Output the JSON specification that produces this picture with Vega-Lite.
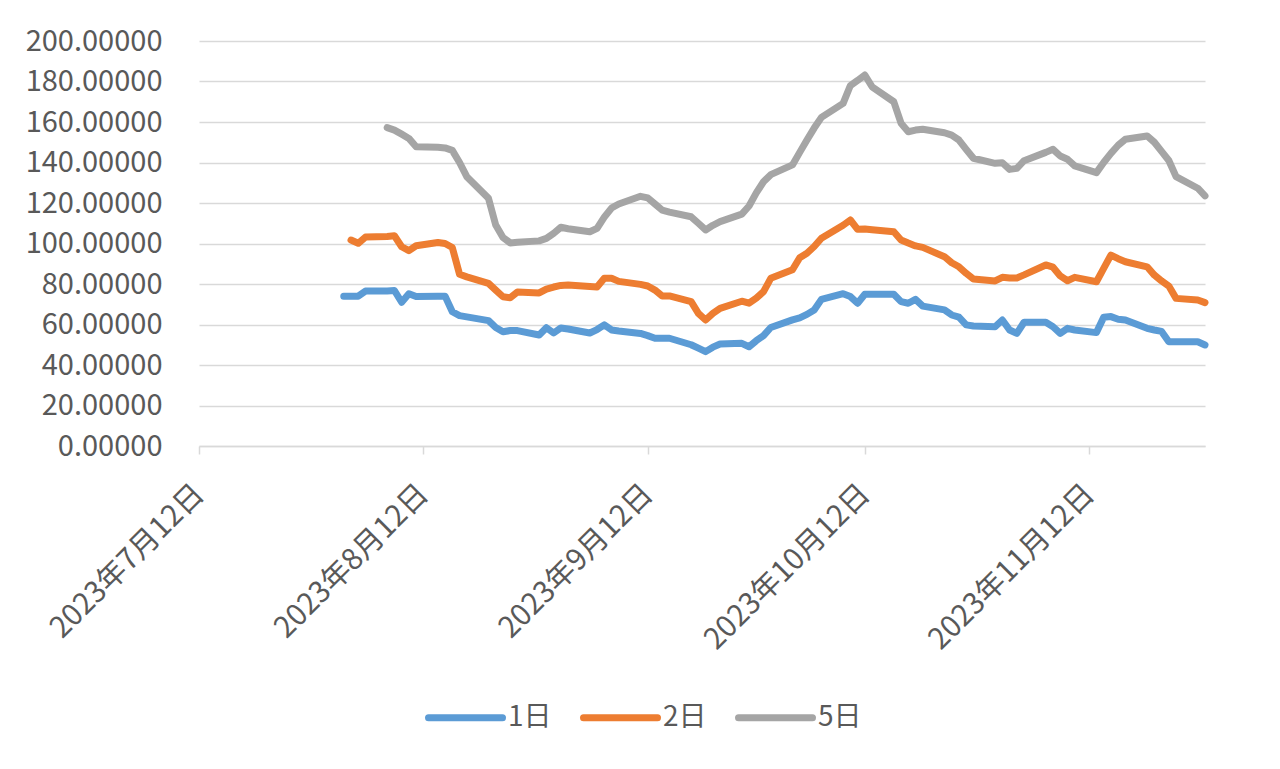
{
  "$schema": "https://vega.github.io/schema/vega-lite/v6.json",
  "width": 1006,
  "height": 405,
  "autosize": "none",
  "padding": {"left": 199, "top": 41, "right": 75, "bottom": 323},
  "background": "white",
  "config": {"view": {"stroke": null}, "font": "Noto Sans CJK SC"},
  "datasets": {
    "s1": [
      {"date": "2023-08-01", "v": 74.0}, {"date": "2023-08-03", "v": 74.0}, {"date": "2023-08-04", "v": 76.5},
      {"date": "2023-08-07", "v": 76.6}, {"date": "2023-08-08", "v": 76.8}, {"date": "2023-08-09", "v": 71.0},
      {"date": "2023-08-10", "v": 75.2}, {"date": "2023-08-11", "v": 73.8}, {"date": "2023-08-14", "v": 74.0},
      {"date": "2023-08-15", "v": 74.0}, {"date": "2023-08-16", "v": 66.3}, {"date": "2023-08-17", "v": 64.4},
      {"date": "2023-08-21", "v": 61.9}, {"date": "2023-08-22", "v": 58.5}, {"date": "2023-08-23", "v": 56.4},
      {"date": "2023-08-24", "v": 57.0}, {"date": "2023-08-25", "v": 57.0}, {"date": "2023-08-28", "v": 54.8},
      {"date": "2023-08-29", "v": 58.4}, {"date": "2023-08-30", "v": 55.8}, {"date": "2023-08-31", "v": 58.3},
      {"date": "2023-09-01", "v": 57.8}, {"date": "2023-09-04", "v": 55.8}, {"date": "2023-09-05", "v": 57.5},
      {"date": "2023-09-06", "v": 59.8}, {"date": "2023-09-07", "v": 57.3}, {"date": "2023-09-08", "v": 56.8},
      {"date": "2023-09-11", "v": 55.6}, {"date": "2023-09-12", "v": 54.5}, {"date": "2023-09-13", "v": 53.2},
      {"date": "2023-09-14", "v": 53.2}, {"date": "2023-09-15", "v": 53.2}, {"date": "2023-09-18", "v": 50.0},
      {"date": "2023-09-19", "v": 48.3}, {"date": "2023-09-20", "v": 46.6}, {"date": "2023-09-21", "v": 48.8},
      {"date": "2023-09-22", "v": 50.4}, {"date": "2023-09-25", "v": 50.7}, {"date": "2023-09-26", "v": 49.0},
      {"date": "2023-09-27", "v": 52.0}, {"date": "2023-09-28", "v": 54.5}, {"date": "2023-09-29", "v": 58.5},
      {"date": "2023-10-02", "v": 62.3}, {"date": "2023-10-03", "v": 63.3}, {"date": "2023-10-04", "v": 65.0},
      {"date": "2023-10-05", "v": 67.2}, {"date": "2023-10-06", "v": 72.4}, {"date": "2023-10-09", "v": 75.2},
      {"date": "2023-10-10", "v": 73.8}, {"date": "2023-10-11", "v": 70.5}, {"date": "2023-10-12", "v": 74.9},
      {"date": "2023-10-13", "v": 75.0}, {"date": "2023-10-16", "v": 74.9}, {"date": "2023-10-17", "v": 71.3},
      {"date": "2023-10-18", "v": 70.5}, {"date": "2023-10-19", "v": 72.4}, {"date": "2023-10-20", "v": 69.1},
      {"date": "2023-10-23", "v": 67.2}, {"date": "2023-10-24", "v": 64.7}, {"date": "2023-10-25", "v": 63.6},
      {"date": "2023-10-26", "v": 59.8}, {"date": "2023-10-27", "v": 59.3}, {"date": "2023-10-30", "v": 58.9},
      {"date": "2023-10-31", "v": 62.2}, {"date": "2023-11-01", "v": 57.3}, {"date": "2023-11-02", "v": 55.6},
      {"date": "2023-11-03", "v": 61.1}, {"date": "2023-11-06", "v": 61.1}, {"date": "2023-11-07", "v": 58.9},
      {"date": "2023-11-08", "v": 55.6}, {"date": "2023-11-09", "v": 58.1}, {"date": "2023-11-10", "v": 57.3},
      {"date": "2023-11-13", "v": 56.0}, {"date": "2023-11-14", "v": 63.6}, {"date": "2023-11-15", "v": 63.9},
      {"date": "2023-11-16", "v": 62.6}, {"date": "2023-11-17", "v": 62.2}, {"date": "2023-11-20", "v": 58.1},
      {"date": "2023-11-21", "v": 57.3}, {"date": "2023-11-22", "v": 56.6}, {"date": "2023-11-23", "v": 51.5},
      {"date": "2023-11-24", "v": 51.5}, {"date": "2023-11-27", "v": 51.5}, {"date": "2023-11-28", "v": 49.9}
    ],
    "s2": [
      {"date": "2023-08-02", "v": 101.7}, {"date": "2023-08-03", "v": 100.1}, {"date": "2023-08-04", "v": 103.2},
      {"date": "2023-08-07", "v": 103.5}, {"date": "2023-08-08", "v": 103.8}, {"date": "2023-08-09", "v": 98.4},
      {"date": "2023-08-10", "v": 96.5}, {"date": "2023-08-11", "v": 98.9}, {"date": "2023-08-14", "v": 100.5},
      {"date": "2023-08-15", "v": 100.0}, {"date": "2023-08-16", "v": 98.0}, {"date": "2023-08-17", "v": 84.8},
      {"date": "2023-08-18", "v": 83.5}, {"date": "2023-08-21", "v": 80.3}, {"date": "2023-08-22", "v": 77.0},
      {"date": "2023-08-23", "v": 73.7}, {"date": "2023-08-24", "v": 73.2}, {"date": "2023-08-25", "v": 76.0},
      {"date": "2023-08-28", "v": 75.6}, {"date": "2023-08-29", "v": 77.5}, {"date": "2023-08-30", "v": 78.5},
      {"date": "2023-08-31", "v": 79.3}, {"date": "2023-09-01", "v": 79.5}, {"date": "2023-09-04", "v": 78.8},
      {"date": "2023-09-05", "v": 78.5}, {"date": "2023-09-06", "v": 82.8}, {"date": "2023-09-07", "v": 82.8},
      {"date": "2023-09-08", "v": 81.3}, {"date": "2023-09-11", "v": 79.8}, {"date": "2023-09-12", "v": 79.0},
      {"date": "2023-09-13", "v": 77.0}, {"date": "2023-09-14", "v": 74.1}, {"date": "2023-09-15", "v": 74.1},
      {"date": "2023-09-18", "v": 71.3}, {"date": "2023-09-19", "v": 65.5}, {"date": "2023-09-20", "v": 62.2},
      {"date": "2023-09-21", "v": 65.5}, {"date": "2023-09-22", "v": 68.0}, {"date": "2023-09-25", "v": 71.5},
      {"date": "2023-09-26", "v": 70.5}, {"date": "2023-09-27", "v": 73.0}, {"date": "2023-09-28", "v": 76.2},
      {"date": "2023-09-29", "v": 82.8}, {"date": "2023-10-02", "v": 87.0}, {"date": "2023-10-03", "v": 93.0},
      {"date": "2023-10-04", "v": 95.2}, {"date": "2023-10-05", "v": 98.5}, {"date": "2023-10-06", "v": 102.6},
      {"date": "2023-10-09", "v": 109.0}, {"date": "2023-10-10", "v": 111.6}, {"date": "2023-10-11", "v": 107.0},
      {"date": "2023-10-12", "v": 107.2}, {"date": "2023-10-13", "v": 106.8}, {"date": "2023-10-16", "v": 105.8},
      {"date": "2023-10-17", "v": 101.7}, {"date": "2023-10-18", "v": 100.2}, {"date": "2023-10-19", "v": 98.8},
      {"date": "2023-10-20", "v": 98.1}, {"date": "2023-10-23", "v": 93.5}, {"date": "2023-10-24", "v": 90.5},
      {"date": "2023-10-25", "v": 88.5}, {"date": "2023-10-26", "v": 85.3}, {"date": "2023-10-27", "v": 82.5},
      {"date": "2023-10-30", "v": 81.5}, {"date": "2023-10-31", "v": 83.3}, {"date": "2023-11-01", "v": 83.0},
      {"date": "2023-11-02", "v": 83.0}, {"date": "2023-11-03", "v": 84.5}, {"date": "2023-11-06", "v": 89.4},
      {"date": "2023-11-07", "v": 88.3}, {"date": "2023-11-08", "v": 84.0}, {"date": "2023-11-09", "v": 81.6},
      {"date": "2023-11-10", "v": 83.3}, {"date": "2023-11-13", "v": 81.1}, {"date": "2023-11-14", "v": 87.7},
      {"date": "2023-11-15", "v": 94.3}, {"date": "2023-11-16", "v": 92.5}, {"date": "2023-11-17", "v": 91.0},
      {"date": "2023-11-20", "v": 88.5}, {"date": "2023-11-21", "v": 84.4}, {"date": "2023-11-22", "v": 81.5},
      {"date": "2023-11-23", "v": 79.0}, {"date": "2023-11-24", "v": 72.9}, {"date": "2023-11-27", "v": 72.1},
      {"date": "2023-11-28", "v": 70.8}
    ],
    "s5": [
      {"date": "2023-08-07", "v": 157.2}, {"date": "2023-08-08", "v": 156.0}, {"date": "2023-08-09", "v": 154.0},
      {"date": "2023-08-10", "v": 151.9}, {"date": "2023-08-11", "v": 147.8}, {"date": "2023-08-14", "v": 147.5},
      {"date": "2023-08-15", "v": 147.2}, {"date": "2023-08-16", "v": 146.0}, {"date": "2023-08-17", "v": 140.0},
      {"date": "2023-08-18", "v": 133.0}, {"date": "2023-08-21", "v": 122.3}, {"date": "2023-08-22", "v": 109.1},
      {"date": "2023-08-23", "v": 103.0}, {"date": "2023-08-24", "v": 100.3}, {"date": "2023-08-25", "v": 100.6},
      {"date": "2023-08-28", "v": 101.3}, {"date": "2023-08-29", "v": 102.5}, {"date": "2023-08-30", "v": 105.0},
      {"date": "2023-08-31", "v": 108.0}, {"date": "2023-09-01", "v": 107.3}, {"date": "2023-09-04", "v": 105.8},
      {"date": "2023-09-05", "v": 107.5}, {"date": "2023-09-06", "v": 113.0}, {"date": "2023-09-07", "v": 117.5},
      {"date": "2023-09-08", "v": 119.5}, {"date": "2023-09-11", "v": 123.3}, {"date": "2023-09-12", "v": 122.5},
      {"date": "2023-09-13", "v": 119.5}, {"date": "2023-09-14", "v": 116.5}, {"date": "2023-09-15", "v": 115.5},
      {"date": "2023-09-18", "v": 113.2}, {"date": "2023-09-19", "v": 110.0}, {"date": "2023-09-20", "v": 106.7},
      {"date": "2023-09-21", "v": 109.0}, {"date": "2023-09-22", "v": 110.8}, {"date": "2023-09-25", "v": 114.5},
      {"date": "2023-09-26", "v": 118.5}, {"date": "2023-09-27", "v": 125.0}, {"date": "2023-09-28", "v": 130.5},
      {"date": "2023-09-29", "v": 134.0}, {"date": "2023-10-02", "v": 138.8}, {"date": "2023-10-03", "v": 145.0},
      {"date": "2023-10-04", "v": 151.1}, {"date": "2023-10-05", "v": 157.0}, {"date": "2023-10-06", "v": 162.3},
      {"date": "2023-10-09", "v": 169.2}, {"date": "2023-10-10", "v": 178.0}, {"date": "2023-10-11", "v": 180.5},
      {"date": "2023-10-12", "v": 183.2}, {"date": "2023-10-13", "v": 177.4}, {"date": "2023-10-16", "v": 170.0},
      {"date": "2023-10-17", "v": 159.4}, {"date": "2023-10-18", "v": 155.2}, {"date": "2023-10-19", "v": 156.0},
      {"date": "2023-10-20", "v": 156.4}, {"date": "2023-10-23", "v": 154.7}, {"date": "2023-10-24", "v": 153.5},
      {"date": "2023-10-25", "v": 151.1}, {"date": "2023-10-26", "v": 146.5}, {"date": "2023-10-27", "v": 142.1},
      {"date": "2023-10-30", "v": 139.6}, {"date": "2023-10-31", "v": 139.9}, {"date": "2023-11-01", "v": 136.6},
      {"date": "2023-11-02", "v": 137.1}, {"date": "2023-11-03", "v": 140.9}, {"date": "2023-11-06", "v": 145.0},
      {"date": "2023-11-07", "v": 146.5}, {"date": "2023-11-08", "v": 143.2}, {"date": "2023-11-09", "v": 141.6},
      {"date": "2023-11-10", "v": 138.3}, {"date": "2023-11-13", "v": 135.0}, {"date": "2023-11-14", "v": 140.0},
      {"date": "2023-11-15", "v": 144.5}, {"date": "2023-11-16", "v": 148.5}, {"date": "2023-11-17", "v": 151.5},
      {"date": "2023-11-20", "v": 153.1}, {"date": "2023-11-21", "v": 150.0}, {"date": "2023-11-22", "v": 145.5},
      {"date": "2023-11-23", "v": 141.0}, {"date": "2023-11-24", "v": 133.0}, {"date": "2023-11-27", "v": 127.3},
      {"date": "2023-11-28", "v": 123.5}
    ]
  },
  "data": {"name": "s1"},
  "transform": [
    {"calculate": "'1日'", "as": "series"}
  ],
  "layer": [
    {
      "mark": {"type": "line", "strokeWidth": 7, "strokeCap": "round", "strokeJoin": "round"},
      "encoding": {
        "x": {
          "field": "date", "type": "temporal",
          "scale": {"type": "utc", "domain": [{"year": 2023, "month": 7, "date": 12, "utc": true}, {"year": 2023, "month": 11, "date": 28, "utc": true}]},
          "axis": {
            "values": [
              {"year": 2023, "month": 7, "date": 12, "utc": true},
              {"year": 2023, "month": 8, "date": 12, "utc": true},
              {"year": 2023, "month": 9, "date": 12, "utc": true},
              {"year": 2023, "month": 10, "date": 12, "utc": true},
              {"year": 2023, "month": 11, "date": 12, "utc": true}
            ],
            "labelExpr": "utcFormat(datum.value, '%Y') + '年' + utcFormat(datum.value, '%-m') + '月' + utcFormat(datum.value, '%-d') + '日'",
            "labelAngle": -45, "labelAlign": "right", "labelBaseline": "middle",
            "labelFontSize": 29.5, "labelColor": "#595959", "labelPadding": 35, "labelLimit": 500,
            "domainColor": "#D9D9D9", "domainWidth": 1.5,
            "tickColor": "#D9D9D9", "tickSize": 8, "tickWidth": 1.5,
            "grid": false, "title": null, "labelOverlap": false
          }
        },
        "y": {
          "field": "v", "type": "quantitative",
          "scale": {"domain": [0, 200]},
          "axis": {
            "values": [0, 20, 40, 60, 80, 100, 120, 140, 160, 180, 200],
            "format": ".5f", "labelFontSize": 29, "labelColor": "#595959",
            "domain": false, "ticks": false, "gridColor": "#D9D9D9", "gridWidth": 1.5,
            "labelPadding": 37, "title": null
          }
        },
        "color": {
          "field": "series", "type": "nominal",
          "scale": {"domain": ["1日", "2日", "5日"], "range": ["#5B9BD5", "#ED7D31", "#A5A5A5"]},
          "legend": {
            "orient": "none", "legendX": 226, "legendY": 636, "direction": "horizontal",
            "title": null, "symbolType": "stroke", "symbolSize": 5476, "symbolStrokeWidth": 7,
            "labelFontSize": 28, "labelColor": "#595959", "columnPadding": 17, "labelOffset": 2,
            "encode": {"symbols": {"update": {"strokeCap": {"value": "round"}}}}
          }
        }
      }
    },
    {
      "data": {"name": "s2"},
      "transform": [{"calculate": "'2日'", "as": "series"}],
      "mark": {"type": "line", "strokeWidth": 7, "strokeCap": "round", "strokeJoin": "round"},
      "encoding": {
        "x": {"field": "date", "type": "temporal"},
        "y": {"field": "v", "type": "quantitative"},
        "color": {"field": "series", "type": "nominal"}
      }
    },
    {
      "data": {"name": "s5"},
      "transform": [{"calculate": "'5日'", "as": "series"}],
      "mark": {"type": "line", "strokeWidth": 7, "strokeCap": "round", "strokeJoin": "round"},
      "encoding": {
        "x": {"field": "date", "type": "temporal"},
        "y": {"field": "v", "type": "quantitative"},
        "color": {"field": "series", "type": "nominal"}
      }
    }
  ]
}
